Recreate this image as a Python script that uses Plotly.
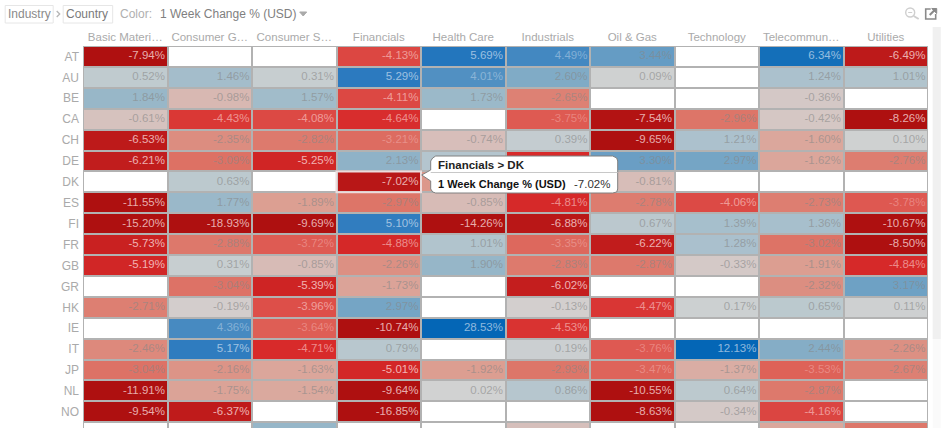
import plotly.graph_objects as go

industries = ["Basic Materi…", "Consumer G…", "Consumer S…", "Financials", "Health Care",
              "Industrials", "Oil & Gas", "Technology", "Telecommun…", "Utilities"]
countries = ["AT", "AU", "BE", "CA", "CH", "DE", "DK", "ES", "FI", "FR", "GB", "GR", "HK", "IE", "IT", "JP", "NL", "NO"]
N = None
AT = [-7.94, N, N, -4.13, 5.69, 4.49, 3.44, N, 6.34, -6.49]
AU = [0.52, 1.46, 0.31, 5.29, 4.01, 2.60, 0.09, N, 1.24, 1.01]
BE = [1.84, -0.98, 1.57, -4.11, 1.73, -2.65, N, N, -0.36, N]
CA = [-0.61, -4.43, -4.08, -4.64, N, -3.75, -7.54, -2.96, -0.42, -8.26]
CH = [-6.53, -2.35, -2.82, -3.21, -0.74, 0.39, -9.65, 1.21, -1.60, 0.10]
DE = [-6.21, -3.09, -5.25, 2.13, 0.90, -4.70, 3.30, 2.97, -1.62, -2.76]
DK = [N, 0.63, N, -7.02, -2.10, N, -0.81, N, N, N]
ES = [-11.55, 1.77, -1.89, -2.97, -0.85, -4.81, -2.78, -4.06, -2.73, -3.78]
FI = [-15.20, -18.93, -9.69, 5.10, -14.26, -6.88, 0.67, 1.39, 1.36, -10.67]
FR = [-5.73, -2.88, -3.72, -4.88, 1.01, -3.35, -6.22, 1.28, -3.02, -8.50]
GB = [-5.19, 0.31, -0.85, -2.26, 1.90, -2.83, -2.87, -0.33, -1.91, -4.84]
GR = [N, -3.04, -5.39, -1.73, N, -6.02, N, N, -2.32, 3.17]
HK = [-2.71, -0.19, -3.96, 2.97, N, -0.13, -4.47, 0.17, 0.65, 0.11]
IE = [N, 4.36, -3.64, -10.74, 28.53, -4.53, N, N, N, N]
IT = [-2.46, 5.17, -4.71, 0.79, N, 0.19, -3.76, 12.13, 2.44, -2.26]
JP = [-3.04, -2.16, -1.63, -5.01, -1.92, -2.93, -3.47, -1.37, -3.53, -2.67]
NL = [-11.91, -1.75, -1.54, -9.64, 0.02, 0.86, -10.55, 0.64, -2.87, N]
NO = [-9.54, -6.37, N, -16.85, N, N, -8.63, -0.34, -4.16, N]
# Next row: only its top edge shows, values estimated from colour, no text visible
NEXT_ROW = [N, N, 1.9, N, N, -0.7, N, N, -1.6, -2.9]
rows = [AT, AU, BE, CA, CH, DE, DK, ES, FI, FR, GB, GR, HK, IE, IT, JP, NL, NO, NEXT_ROW]

W, H = 943, 428
L, T, R, B = 83.3, 46, 928.3, 428
pw, ph = R - L, B - T
px = lambda v: (v - L) / pw
py = lambda v: 1 - (v - T) / ph

ZM = 8.0
stops = [(-8, "#ae1010"), (-6.5, "#bd1a1a"), (-4.7, "#d82a2a"), (-3.75, "#de5a52"), (-2.96, "#dd7568"),
         (-1.89, "#dc9f92"), (-0.98, "#d8b8b2"), (0, "#d2d2d2"), (0.63, "#bcc9ce"), (1.24, "#abc1cd"),
         (1.84, "#98b7c8"), (2.97, "#75a5c5"), (4.01, "#5190c2"), (5.29, "#2c7abf"), (6.34, "#146fb9"), (8, "#0466b6")]
colorscale = [[(v + ZM) / (2 * ZM), c] for v, c in stops]

xs = list(range(len(industries)))
ys = list(range(len(rows)))
mask = [[0 if v is None else None for v in r] for r in rows]

fig = go.Figure()
fig.add_trace(go.Heatmap(x=xs, y=ys, z=mask, colorscale=[[0, "#ffffff"], [1, "#ffffff"]], showscale=False,
                         xgap=2, ygap=2, hoverinfo="skip"))
fig.add_trace(go.Heatmap(x=xs, y=ys, z=rows, colorscale=colorscale, zmin=-ZM, zmax=ZM, showscale=False,
                         xgap=2, ygap=2, hovertemplate="%{x} %{y}: %{z:.2f}%<extra></extra>"))


def text_colour(v):
    if v <= -5:
        return "rgba(255,235,235,0.72)"
    if v >= 5:
        return "rgba(235,242,250,0.6)"
    if v <= -3.9:
        return "rgba(255,225,225,0.55)"
    if v <= -3.2:
        return "rgba(255,225,225,0.32)"
    if v >= 3.8:
        return "rgba(235,242,250,0.38)"
    return "rgba(135,135,135,0.6)"


tx, ty, tt, tc = [], [], [], []
for j, r in enumerate(rows[:len(countries)]):
    for i, v in enumerate(r):
        if v is None or (j == 5 and i in (4, 5)) or (j == 6 and i == 4):
            continue
        tx.append(i + 0.47)
        ty.append(j)
        tt.append(f"{v:.2f}%")
        tc.append(text_colour(v))
fig.add_trace(go.Scatter(x=tx, y=ty, text=tt, mode="text", textposition="middle left", hoverinfo="skip",
                         textfont=dict(family="Liberation Sans", size=11.5, color=tc)))

GREY = "#aaaaaa"
shapes = [
    dict(type="rect", xref="x", yref="y", x0=2.5, x1=3.5, y0=5.5, y1=6.5,
         line=dict(color="#ecdcdc", width=2), layer="above"),
]


def box(x0, y0, x1, y1, line="#e4e4e4", fill="#ffffff", w=1):
    return dict(type="rect", xref="paper", yref="paper", x0=px(x0), x1=px(x1), y0=py(y0), y1=py(y1),
                line=dict(color=line, width=w), fillcolor=fill)


def seg(x0, y0, x1, y1, color, w=1):
    return dict(type="line", xref="paper", yref="paper", x0=px(x0), x1=px(x1), y0=py(y0), y1=py(y1),
                line=dict(color=color, width=w))


def poly(pts, line, fill, w=1, close=True):
    path = "M" + " L".join(f"{px(a):.5f},{py(b):.5f}" for a, b in pts) + (" Z" if close else "")
    return dict(type="path", xref="paper", yref="paper", path=path, line=dict(color=line, width=w), fillcolor=fill)


def tag(x, y, text, size=12, color="#888888", bold=False, anchor="left"):
    return dict(xref="paper", yref="paper", x=px(x), y=py(y), text=f"<b>{text}</b>" if bold else text,
                showarrow=False, xanchor=anchor, yanchor="middle",
                font=dict(family="Liberation Sans", size=size, color=color), borderpad=0)


shapes += [
    box(5.5, 5.5, 53.5, 23, "#e6e6e6"),
    box(63.5, 5.5, 113, 23, "#e6e6e6"),
    poly([(57, 11), (60, 14), (57, 17)], "#b5b5b5", "rgba(0,0,0,0)", 1.3, close=False),
    poly([(300, 12), (307, 12), (303.5, 16)], "#aaaaaa", "#aaaaaa"),
    # scrollbar
    box(933, 27, 941, 428, "#fafafa", "#fafafa", 0),
    box(933, 27, 941, 339, "#f0f0f0", "#f0f0f0", 0),
    # zoom icon
    dict(type="circle", xref="paper", yref="paper", x0=px(906), x1=px(915), y0=py(8), y1=py(17),
         line=dict(color="#cfcfcf", width=1.4)),
    seg(914, 16, 919, 19, "#cfcfcf", 2),
    seg(908.5, 12.5, 912.5, 12.5, "#cfcfcf", 1),
    # expand icon
    poly([(931, 9), (926, 9), (926, 19), (936, 19), (936, 14)], "#8a8a8a", "rgba(0,0,0,0)", 1.6, close=False),
    seg(930, 15, 936, 9, "#8a8a8a", 2),
    poly([(932, 8.5), (937, 8.5), (937, 13.5)], "#8a8a8a", "#8a8a8a"),
    # tooltip
    dict(type="path", xref="paper", yref="paper", line=dict(color="#808080", width=1), fillcolor="#ffffff",
         path="M" + " L".join(f"{px(a):.5f},{py(b):.5f}" for a, b in [
             (436, 156), (613, 156), (617, 158), (618, 161), (618, 189), (617, 192), (613, 193),
             (436, 193), (433, 192), (431, 189), (431, 181), (422, 175), (431, 170), (431, 161), (433, 158)]) + " Z"),
    seg(431, 172.5, 618, 172.5, "#c8c8c8"),
]

annotations = [
    tag(7, 14.5, "Industry", 12, "#8a8a8a"),
    tag(65, 14.5, "Country", 12, "#7a7a7a"),
    tag(119, 14.5, "Color:", 12, "#b0b0b0"),
    tag(159, 14.5, "1 Week Change % (USD)", 12, "#808080"),
    tag(437, 164.5, "Financials &gt; DK", 11.5, "#222222", bold=True),
    tag(437, 183.5, "1 Week Change % (USD)", 11, "#111111", bold=True),
    tag(573, 183.5, "-7.02%", 11.5, "#333333"),
]

fig.update_layout(
    width=W, height=H, margin=dict(l=L, r=W - R, t=T, b=0, autoexpand=False),
    paper_bgcolor="#ffffff", plot_bgcolor="#b2b2b2", showlegend=False, hovermode="closest",
    shapes=shapes, annotations=annotations,
    font=dict(family="Liberation Sans", color=GREY),
    xaxis=dict(range=[-0.5, 9.5], side="top", tickvals=xs, ticktext=industries, showgrid=False, zeroline=False,
               ticks="", ticklen=0, tickfont=dict(family="Liberation Sans", size=11.5, color=GREY), tickangle=0,
               ticklabelstandoff=2, fixedrange=True),
    yaxis=dict(range=[-0.5 + ph / ((422.3 - 46) / 18), -0.5], tickvals=list(range(len(countries))), ticktext=countries,
               showgrid=False, zeroline=False, ticks="", ticklen=0, ticklabelstandoff=3,
               tickfont=dict(family="Liberation Sans", size=12, color=GREY), fixedrange=True),
)
fig.write_html("out.html", config=dict(displayModeBar=False),
               post_script="document.body.style.margin='0';document.body.style.overflow='hidden';")
